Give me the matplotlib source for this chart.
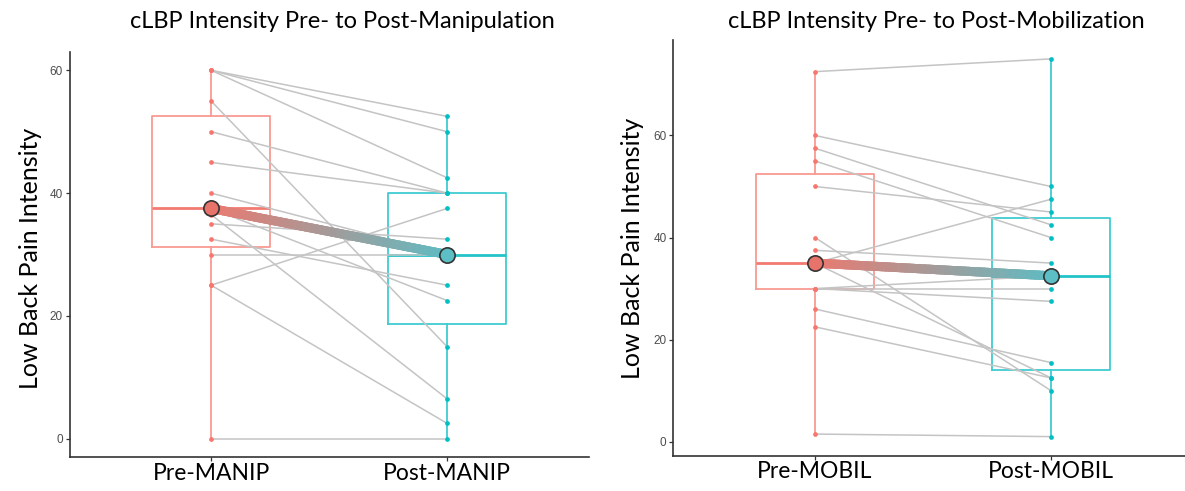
import numpy as np
import matplotlib
matplotlib.use("Agg")
import matplotlib.pyplot as plt
from matplotlib.collections import LineCollection
from matplotlib.colors import to_rgb

# ---------------- data ----------------
manip_labels = ["Pre-MANIP", "Post-MANIP"]
manip_pre = [60, 60, 60, 55, 50, 45, 40, 37.5, 36.5, 35, 32.5, 30, 25, 25, 0]
manip_post = [52.5, 50, 42.5, 15, 40, 40, 30, 22.5, 6.5, 32.5, 25, 30, 37.5, 2.5, 0]

mobil_labels = ["Pre-MOBIL", "Post-MOBIL"]
mobil_pre = [72.5, 60, 57.5, 55, 50, 40, 37.5, 35, 35, 30, 30, 30, 26, 22.5, 1.5]
mobil_post = [75, 50, 42.5, 40, 45, 10, 35, 47.5, 12.5, 32.5, 30, 27.5, 15.5, 12.5, 1]

manip_yticks = [0, 20, 40, 60]
mobil_yticks = [0, 20, 40, 60]

titles = ["cLBP Intensity Pre- to Post-Manipulation",
          "cLBP Intensity Pre- to Post-Mobilization"]
ylabel = "Low Back Pain Intensity"

# ---------------- style ----------------
W, H = 1185, 491
fig = plt.figure(figsize=(W / 100, H / 100), dpi=100)
FONT = ["Lato", "DejaVu Sans"]

RED_BOX = "#F99A93"
RED_MED = "#F27A71"
RED_PT = "#F8766D"
CYAN_BOX = "#3FCDD2"
CYAN_MED = "#22C4C9"
CYAN_PT = "#00BFC4"


def px_axes(x0, y0, x1, y1):
    return fig.add_axes([x0 / W, 1 - y1 / H, (x1 - x0) / W, (y1 - y0) / H])


def panel(ax, pre, post, labels, yticks, xlim, ylim, title, title_x, ylab_x, ylab_y):
    ax.set_xlim(*xlim)
    ax.set_ylim(*ylim)
    bp = ax.boxplot([pre, post], positions=[1, 2], widths=0.5, whis=1.5,
                    showfliers=False, showcaps=False, patch_artist=False,
                    manage_ticks=False)
    for i, (cb, cm) in enumerate([(RED_BOX, RED_MED), (CYAN_BOX, CYAN_MED)]):
        bp["boxes"][i].set(color=cb, linewidth=1.3, zorder=1)
        bp["whiskers"][2 * i].set(color=cb, linewidth=1.3, zorder=1)
        bp["whiskers"][2 * i + 1].set(color=cb, linewidth=1.3, zorder=1)
        bp["medians"][i].set(color=cm, linewidth=2.0, zorder=1)

    # paired lines
    for a, b in zip(pre, post):
        ax.plot([1, 2], [a, b], color="#C4C4C4", linewidth=1.1, zorder=2,
                solid_capstyle="butt")
    ax.plot([1] * len(pre), pre, "o", color=RED_PT, markersize=3.4,
            markeredgewidth=0, zorder=3)
    ax.plot([2] * len(post), post, "o", color=CYAN_PT, markersize=3.4,
            markeredgewidth=0, zorder=3)

    # gradient median line
    m0, m1 = np.median(pre), np.median(post)
    n = 60
    xs = np.linspace(1, 2, n + 1)
    ys = np.linspace(m0, m1, n + 1)
    segs = [[(xs[k], ys[k]), (xs[k + 1], ys[k + 1])] for k in range(n)]
    c0 = np.array(to_rgb("#EC796F"))
    c1 = np.array(to_rgb("#62BAC1"))
    cols = [tuple(c0 + (c1 - c0) * (k / (n - 1))) for k in range(n)]
    lc = LineCollection(segs, colors=cols, linewidths=6.5, zorder=4,
                        capstyle="projecting", antialiased=True)
    ax.add_collection(lc)
    ax.plot([1], [m0], "o", markersize=11, markerfacecolor="#E8736A",
            markeredgecolor="#333333", markeredgewidth=1.2, zorder=5)
    ax.plot([2], [m1], "o", markersize=11, markerfacecolor="#5CBFC6",
            markeredgecolor="#333333", markeredgewidth=1.2, zorder=5)

    for s in ["top", "right"]:
        ax.spines[s].set_visible(False)
    for s in ["left", "bottom"]:
        ax.spines[s].set_color("#333333")
        ax.spines[s].set_linewidth(1.2)
    ax.set_yticks(yticks)
    ax.set_xticks([1, 2])
    ax.set_xticklabels(labels, fontsize=16.5, family=FONT, color="black")
    ax.tick_params(axis="y", length=3, width=0.9, color="#333333",
                   labelsize=8.5, labelcolor="#4D4D4D", pad=2)
    ax.tick_params(axis="x", length=3, width=0.9, color="#333333", pad=1)
    for t in ax.get_yticklabels():
        t.set_family(["Liberation Sans", "DejaVu Sans"])
    ax.set_ylabel(ylabel, fontsize=18, family=FONT)
    ax.yaxis.set_label_coords(ylab_x, ylab_y)
    ax.set_facecolor("white")
    fig.text(title_x / W, 1 - 22 / H, title, ha="center", va="center",
             fontsize=17, family=FONT)


# left panel: ggplot-like expansion (x 0.4..2.6, y -3..63)
ax1 = px_axes(69.6, 51.9, 588.6, 457.1)
panel(ax1, manip_pre, manip_post, manip_labels, manip_yticks,
      (0.4, 2.6), (-3.0, 63.0), titles[0], 342,
      (42 - 69.6) / 519, (457 - 258) / 405)

# right panel: (x 0.4..~2.57, y -2.7..78.7), cropped at right edge
ax2 = px_axes(673.4, 40.0, 1185, 455.5)
panel(ax2, mobil_pre, mobil_post, mobil_labels, mobil_yticks,
      (0.4, 1 + (1185 - 815) / 236), (-2.7, 78.7), titles[1], 936,
      (644 - 673.4) / 511.6, (455.5 - 248) / 415.5)

fig.savefig("out.png", dpi=100, facecolor="white")
